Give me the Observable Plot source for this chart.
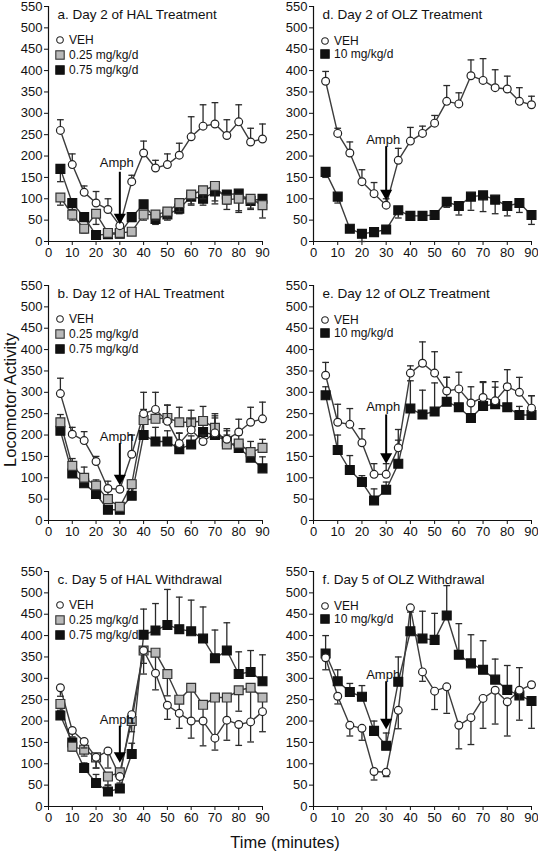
<!DOCTYPE html>
<html>
<head>
<meta charset="utf-8">
<script src="https://cdn.jsdelivr.net/npm/d3@7"></script>
<script src="https://cdn.jsdelivr.net/npm/@observablehq/plot@0.6"></script>
<style>
  body { margin: 0; background: #fff; }
  #fig { position: relative; width: 538px; height: 852px; background: #fff;
         font-family: Arial, "Liberation Sans", Helvetica, sans-serif; color: #111; overflow: hidden; }
  .panel { position: absolute; }
  .leg { position: absolute; font-size: 12px; white-space: nowrap; line-height: 12px; }
  .leg svg { position: absolute; left: 0; top: 0; overflow: visible; }
  .leg span { position: absolute; left: 9px; top: -6px; }
  .axlab { position: absolute; font-size: 16.5px; white-space: nowrap; }
</style>
</head>
<body>
<div id="fig"></div>
<script>
// ---------- shared ----------
const times = [5,10,15,20,25,30,35,40,45,50,55,60,65,70,75,80,85,90];
const xTicks = [0,10,20,30,40,50,60,70,80,90];
const yTicks = [0,50,100,150,200,250,300,350,400,450,500,550];
const amphTime = 30;
const xLabel = "Time (minutes)";
const yLabel = "Locomotor Activity";

// ---------- panel a ----------
const aTitle = "a. Day 2 of HAL Treatment";
const aVEH    = [260,180,115,90,75,37,140,207,172,180,202,245,270,275,248,280,233,240];
const aVEHerr = [25,25,15,27,25,3,15,28,18,25,28,47,50,50,37,40,32,35];
const aL25    = [103,63,30,65,20,20,23,63,63,70,90,110,120,130,98,100,100,85];
const aL25err = [-18,-13,-10,-25,-8,-5,-5,-13,-13,-15,-20,-22,-20,-35,-23,-28,-22,-30];
const aL75    = [170,90,57,15,17,18,57,87,53,63,77,105,100,117,110,112,95,100];
const aL75err = [-30,-15,-10,-5,-5,-5,-10,-10,-13,-13,-12,-20,-15,-29,-22,-44,-20,-15];
const aAmph   = {label: 185, top: 162, tip: 50};

// ---------- panel b ----------
const bTitle = "b. Day 12 of HAL Treatment";
const bVEH    = [297,202,187,138,75,73,155,250,260,232,180,212,185,205,190,207,230,238];
const bVEHerr = [36,16,21,12,17,7,45,50,40,38,25,26,15,40,25,30,35,39];
const bL25    = [230,128,100,82,50,32,85,235,238,240,230,230,233,217,178,180,160,170];
const bL25err = [18,17,25,13,20,3,10,25,27,30,35,28,34,33,22,20,25,20];
const bL75    = [210,110,87,62,25,25,58,200,185,185,167,178,207,200,185,170,147,122];
const bL75err = [10,10,10,8,8,8,20,30,33,25,37,20,25,40,25,15,20,27];
const bAmph   = {label: 196, top: 180, tip: 92};

// ---------- panel c ----------
const cTitle = "c. Day 5 of HAL Withdrawal";
const cVEH    = [278,178,152,115,130,70,215,365,312,237,218,200,200,160,202,192,198,222];
const cVEHerr = [-20,-15,-15,-25,-40,-15,-20,-30,-39,-33,-35,-40,-58,-28,-47,-49,-47,-47];
const cL25    = [240,140,133,115,70,80,200,365,360,310,250,278,238,255,255,272,278,255];
const cL25err = [-15,-10,-15,-25,-20,-15,-25,-55,-48,-51,-32,-78,-38,-95,-53,-49,-80,-33];
const cL75    = [213,150,90,55,35,42,123,402,412,425,415,410,393,347,365,310,315,293];
const cL75err = [10,10,12,20,15,10,25,60,63,83,75,73,74,66,65,52,50,62];
const cAmph   = {label: 202, top: 188, tip: 112};

// ---------- panel d ----------
const dTitle = "d. Day 2 of OLZ Treatment";
const dVEH    = [375,253,207,140,112,85,190,235,253,277,328,322,388,377,360,357,328,320];
const dVEHerr = [23,12,26,28,26,15,28,32,17,18,37,26,37,51,42,30,32,20];
const dOLZ    = [163,105,30,18,22,28,73,60,60,62,93,83,105,108,98,83,90,62];
const dOLZerr = [-13,-15,-5,-18,-5,-5,-18,-10,-10,-5,-13,-21,-32,-38,-33,-23,-22,-22];
const dAmph   = {label: 238, top: 222, tip: 106};

// ---------- panel e ----------
const eTitle = "e. Day 12 of OLZ Treatment";
const eVEH    = [340,230,225,182,108,108,170,345,368,345,303,308,275,288,280,313,300,263];
const eVEHerr = [30,42,37,33,25,25,43,17,50,50,32,39,38,37,45,40,35,29];
const eOLZ    = [293,165,118,90,47,72,133,262,248,255,278,265,240,268,272,265,247,247];
const eOLZerr = [20,35,34,15,27,18,55,65,57,67,57,40,40,55,40,55,20,45];
const eAmph   = {label: 265, top: 247, tip: 142};

// ---------- panel f ----------
const fTitle = "f. Day 5 of OLZ Withdrawal";
const fVEH    = [348,258,190,183,82,80,225,465,315,270,280,190,208,253,272,245,272,285];
const fVEHerr = [-28,-18,-25,-28,-20,-10,-43,-10,-22,-43,-62,-55,-63,-70,-79,-80,-70,5];
const fOLZ    = [358,293,268,257,177,142,292,410,393,390,447,355,335,320,297,273,260,247];
const fOLZerr = [42,27,20,26,23,30,58,55,64,62,70,73,67,68,48,57,65,-64];
const fAmph   = {label: 308, top: 292, tip: 190};

// ---------- series styles ----------
const styles = {
  VEH:  {label: "VEH",          symbol: "circle", r: 3.9, fill: "#fff",  stroke: "#222"},
  L25:  {label: "0.25 mg/kg/d", symbol: "square", r: 5.0, fill: "#b9b9b9", stroke: "#333"},
  L75:  {label: "0.75 mg/kg/d", symbol: "square", r: 5.0, fill: "#111",  stroke: "#111"},
  OLZ:  {label: "10 mg/kg/d",   symbol: "square", r: 5.0, fill: "#111",  stroke: "#111"}
};

const panels = [
  {title: aTitle, col: 0, row: 0, amph: aAmph, series: [["VEH",aVEH,aVEHerr],["L25",aL25,aL25err],["L75",aL75,aL75err]]},
  {title: bTitle, col: 0, row: 1, amph: bAmph, series: [["VEH",bVEH,bVEHerr],["L25",bL25,bL25err],["L75",bL75,bL75err]]},
  {title: cTitle, col: 0, row: 2, amph: cAmph, series: [["VEH",cVEH,cVEHerr],["L25",cL25,cL25err],["L75",cL75,cL75err]]},
  {title: dTitle, col: 1, row: 0, amph: dAmph, series: [["VEH",dVEH,dVEHerr],["OLZ",dOLZ,dOLZerr]]},
  {title: eTitle, col: 1, row: 1, amph: eAmph, series: [["VEH",eVEH,eVEHerr],["OLZ",eOLZ,eOLZerr]]},
  {title: fTitle, col: 1, row: 2, amph: fAmph, series: [["VEH",fVEH,fVEHerr],["OLZ",fOLZ,fOLZerr]]}
];

// ---------- layout ----------
const colLayout = [{left: 0, mL: 48, mR: 8}, {left: 268, mL: 45, mR: 7}];
const rowPlotTop = [6, 285, 571];
const svgW = 270, svgH = 280, mT = 6, plotH = 235, mB = svgH - mT - plotH;

const capSymbol = {draw(ctx, size) { const w = Math.sqrt(size) / 2; ctx.moveTo(-w, 0); ctx.lineTo(w, 0); }};

const fig = document.getElementById("fig");

for (const p of panels) {
  const cl = colLayout[p.col];
  const rows = [];
  for (const [key, vals, errs] of p.series) {
    vals.forEach((v, i) => rows.push({key, t: times[i], v, e: errs[i]}));
  }
  const marks = [
    Plot.axisY({ticks: yTicks, tickSize: 4, tickPadding: 2, label: null, fontSize: 13}),
    Plot.axisX({ticks: xTicks, tickSize: 4, tickPadding: 2, label: null, fontSize: 13}),
    Plot.ruleX([0], {stroke: "#111", strokeWidth: 1.2}),
    Plot.ruleY([0], {stroke: "#111", strokeWidth: 1.2}),
    Plot.line(rows, {x: "t", y: "v", z: "key", stroke: "#3c3c3c", strokeWidth: 1.4})
  ];
  // draw in reverse so VEH on top
  for (const [key] of [...p.series].reverse()) {
    const sr = rows.filter(d => d.key === key);
    const st = styles[key];
    marks.push(Plot.ruleX(sr.filter(d => d.e !== 0), {x: "t", y1: "v", y2: d => d.v + d.e, stroke: "#2a2a2a", strokeWidth: 1.3}));
    marks.push(Plot.dot(sr.filter(d => d.e !== 0), {x: "t", y: d => d.v + d.e, symbol: capSymbol, r: 3.8, stroke: "#2a2a2a", strokeWidth: 1.3, fill: "none"}));
    marks.push(Plot.dot(sr, {x: "t", y: "v", symbol: st.symbol, r: st.r, fill: st.fill, stroke: st.stroke, strokeWidth: 1.2}));
  }
  // Amph annotation
  marks.push(Plot.text([p.amph], {x: () => amphTime, y: "label", text: () => "Amph", fontSize: 13, dx: -3, fill: "#111"}));
  marks.push(Plot.ruleX([p.amph], {x: () => amphTime, y1: "top", y2: "tip", stroke: "#000", strokeWidth: 2}));
  marks.push(Plot.dot([p.amph], {x: () => amphTime, y: "tip", symbol: "triangle", rotate: 180, r: 4.5, fill: "#000", stroke: "none", dy: -3}));
  // title
  marks.push(Plot.text([p.title], {text: d => d, frameAnchor: "top-left", textAnchor: "start", lineAnchor: "middle", dx: 9, dy: 8, fontSize: 13.5, fill: "#111"}));

  const chart = Plot.plot({
    width: svgW, height: svgH,
    marginLeft: cl.mL, marginRight: cl.mR, marginTop: mT, marginBottom: mB,
    x: {domain: [0, 90]},
    y: {domain: [0, 550]},
    style: {fontFamily: 'Arial, "Liberation Sans", Helvetica, sans-serif', background: "transparent", overflow: "visible", color: "#111"},
    marks
  });
  chart.classList.add("panel");
  const plotTop = rowPlotTop[p.row];
  chart.style.left = cl.left + "px";
  chart.style.top = (plotTop - mT) + "px";
  chart.style.position = "absolute";
  fig.appendChild(chart);

  // legend (HTML overlay)
  const plotLeft = cl.left + cl.mL;
  const n = p.series.length;
  const offs = n === 3 ? [34, 49, 64] : [35, 48];
  p.series.forEach(([key], i) => {
    const st = styles[key];
    const row = document.createElement("div");
    row.className = "leg";
    row.style.left = (plotLeft + 12) + "px";
    row.style.top = (plotTop + offs[i]) + "px";
    const sz = st.symbol === "circle" ? 3.3 : 4.2;
    const shape = st.symbol === "circle"
      ? `<circle cx="0" cy="0" r="${sz}" fill="${st.fill}" stroke="${st.stroke}" stroke-width="1.1"/>`
      : `<rect x="${-sz}" y="${-sz}" width="${2*sz}" height="${2*sz}" fill="${st.fill}" stroke="${st.stroke}" stroke-width="1.1"/>`;
    row.innerHTML = `<svg width="1" height="1">${shape}</svg><span>${st.label}</span>`;
    fig.appendChild(row);
  });
}

// axis labels
const xl = document.createElement("div");
xl.className = "axlab";
xl.textContent = xLabel;
xl.style.left = "285px"; xl.style.top = "842px";
xl.style.transform = "translate(-50%, -50%)";
fig.appendChild(xl);

const yl = document.createElement("div");
yl.className = "axlab";
yl.textContent = yLabel;
yl.style.left = "10px"; yl.style.top = "400px";
yl.style.transform = "translate(-50%, -50%) rotate(-90deg)";
fig.appendChild(yl);
</script>
</body>
</html>
